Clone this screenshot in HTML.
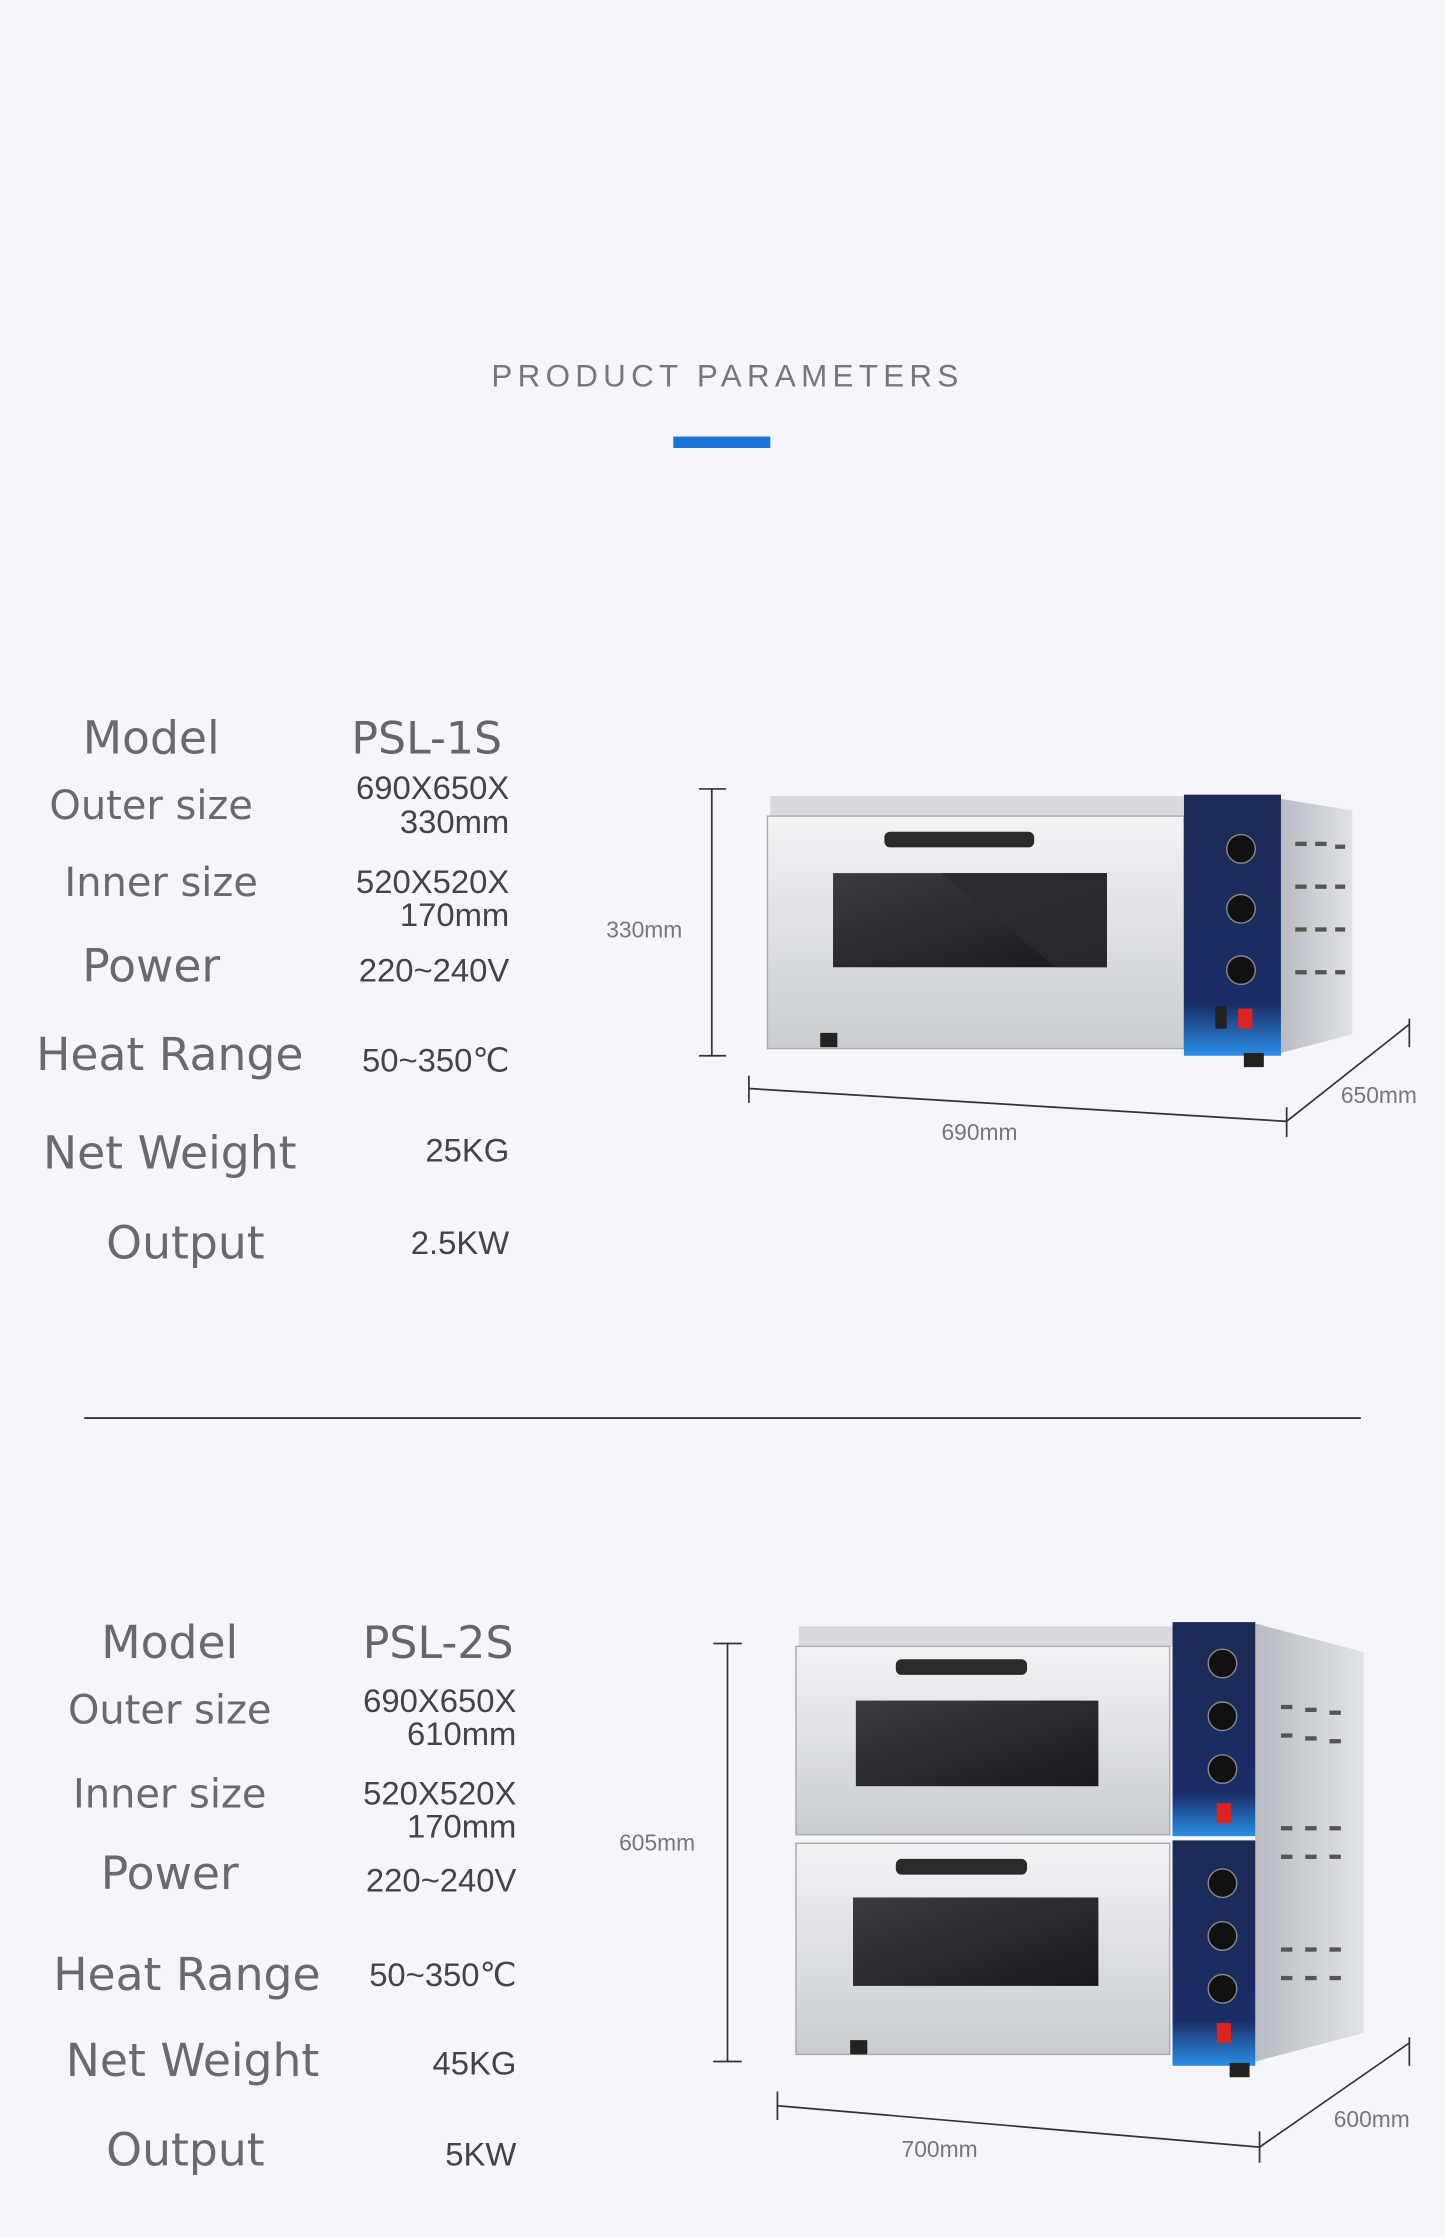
<!DOCTYPE html>
<html><head><meta charset="utf-8"><style>
html,body{margin:0;padding:0;background:#f4f6fc;}
svg{display:block}
.l{font-family:"DejaVu Sans","Liberation Sans",sans-serif;fill:#6a6a6a;}
.v{font-family:"Liberation Sans",sans-serif;fill:#444;}
.d{font-family:"Liberation Sans",sans-serif;fill:#777;font-size:16px}
</style></head><body>
<svg width="1445" height="2237" viewBox="0 0 1013 1568" preserveAspectRatio="none" xmlns="http://www.w3.org/2000/svg">
<defs>
<linearGradient id="door" x1="0" y1="0" x2="0" y2="1"><stop offset="0" stop-color="#f2f3f5"/><stop offset="1" stop-color="#c9ccd1"/></linearGradient>
<linearGradient id="side" x1="0" y1="0" x2="1" y2="0"><stop offset="0" stop-color="#b8bcc2"/><stop offset="1" stop-color="#e0e2e6"/></linearGradient>
<linearGradient id="panel" x1="0" y1="0" x2="0" y2="1"><stop offset="0" stop-color="#1c2a55"/><stop offset="0.8" stop-color="#1a2d66"/><stop offset="1" stop-color="#2a8ee8"/></linearGradient>
<linearGradient id="win" x1="0" y1="0" x2="1" y2="1"><stop offset="0" stop-color="#3a3c40"/><stop offset="1" stop-color="#18191c"/></linearGradient>
</defs>
<rect width="1013" height="1568" fill="#f4f6fc"/>
<text x="510" y="271" text-anchor="middle" style="font-family:'Liberation Sans',sans-serif;font-size:22px;letter-spacing:3.7px;fill:#777">PRODUCT PARAMETERS</text>
<rect x="472" y="306" width="68" height="8" fill="#1a73d6"/>
<line x1="59" y1="994" x2="954" y2="994" stroke="#333" stroke-width="1.3"/>

<g class="l" style="font-size:32px" text-anchor="middle">
<text x="106" y="528">Model</text>
<text x="106" y="574" style="font-size:28px">Outer size</text>
<text x="113" y="628" style="font-size:28px">Inner size</text>
<text x="106" y="688">Power</text>
<text x="119" y="750">Heat Range</text>
<text x="119" y="819">Net Weight</text>
<text x="130" y="882">Output</text>
</g>
<g class="v" style="font-size:23px" text-anchor="end">
<text x="352" y="528" class="l" style="font-size:31px;fill:#666">PSL-1S</text>
<text x="357" y="560">690X650X</text>
<text x="357" y="584">330mm</text>
<text x="357" y="626">520X520X</text>
<text x="357" y="649">170mm</text>
<text x="357" y="688">220~240V</text>
<text x="357" y="751">50~350℃</text>
<text x="357" y="814">25KG</text>
<text x="357" y="879">2.5KW</text>
</g>

<g class="l" style="font-size:32px" text-anchor="middle">
<text x="119" y="1162">Model</text>
<text x="119" y="1208" style="font-size:28px">Outer size</text>
<text x="119" y="1267" style="font-size:28px">Inner size</text>
<text x="119" y="1324">Power</text>
<text x="131" y="1395">Heat Range</text>
<text x="135" y="1455">Net Weight</text>
<text x="130" y="1518">Output</text>
</g>
<g class="v" style="font-size:23px" text-anchor="end">
<text x="360" y="1162" class="l" style="font-size:31px;fill:#666">PSL-2S</text>
<text x="362" y="1200">690X650X</text>
<text x="362" y="1223">610mm</text>
<text x="362" y="1265">520X520X</text>
<text x="362" y="1288">170mm</text>
<text x="362" y="1326">220~240V</text>
<text x="362" y="1392">50~350℃</text>
<text x="362" y="1454">45KG</text>
<text x="362" y="1518">5KW</text>
</g>

<g stroke="#333" stroke-width="1.2" fill="none">
<line x1="499" y1="553" x2="499" y2="740"/><line x1="490" y1="553" x2="509" y2="553"/><line x1="490" y1="740" x2="509" y2="740"/>
<line x1="525" y1="763" x2="902" y2="786"/><line x1="525" y1="754" x2="525" y2="773"/><line x1="902" y1="776" x2="902" y2="797"/>
<line x1="902" y1="786" x2="988" y2="718"/><line x1="988" y1="714" x2="988" y2="734"/>
</g>
<text x="425" y="657" class="d">330mm</text>
<text x="660" y="799" class="d">690mm</text>
<text x="940" y="773" class="d">650mm</text>

<polygon points="898,560 948,568 948,725 898,738" fill="url(#side)"/>
<g fill="#555"><rect x="908" y="590" width="8" height="3"/><rect x="922" y="590" width="8" height="3"/><rect x="936" y="592" width="7" height="3"/>
<rect x="908" y="620" width="8" height="3"/><rect x="922" y="620" width="8" height="3"/><rect x="936" y="620" width="7" height="3"/>
<rect x="908" y="650" width="8" height="3"/><rect x="922" y="650" width="8" height="3"/><rect x="936" y="650" width="7" height="3"/>
<rect x="908" y="680" width="8" height="3"/><rect x="922" y="680" width="8" height="3"/><rect x="936" y="680" width="7" height="3"/></g>
<rect x="540" y="558" width="292" height="14" fill="#d8dadd"/>
<rect x="538" y="572" width="292" height="163" fill="url(#door)" stroke="#aaa"/>
<rect x="584" y="612" width="192" height="66" fill="url(#win)"/>
<polygon points="660,612 776,612 776,678 740,678" fill="#2a2b2e" opacity="0.8"/>
<rect x="620" y="583" width="105" height="11" rx="4" fill="#2a2a2a"/>
<rect x="830" y="557" width="68" height="183" fill="url(#panel)"/>
<g fill="#111" stroke="#888"><circle cx="870" cy="595" r="10"/><circle cx="870" cy="637" r="10"/><circle cx="870" cy="680" r="10"/></g>
<rect x="868" y="707" width="10" height="14" fill="#d22"/><rect x="852" y="705" width="8" height="16" fill="#222"/>
<rect x="575" y="724" width="12" height="10" fill="#222"/><rect x="872" y="738" width="14" height="10" fill="#222"/>

<g stroke="#333" stroke-width="1.2" fill="none">
<line x1="510" y1="1152" x2="510" y2="1445"/><line x1="500" y1="1152" x2="520" y2="1152"/><line x1="500" y1="1445" x2="520" y2="1445"/>
<line x1="545" y1="1476" x2="883" y2="1505"/><line x1="545" y1="1466" x2="545" y2="1486"/><line x1="883" y1="1494" x2="883" y2="1516"/>
<line x1="883" y1="1505" x2="988" y2="1432"/><line x1="988" y1="1428" x2="988" y2="1448"/>
</g>
<text x="434" y="1297" class="d">605mm</text>
<text x="632" y="1512" class="d">700mm</text>
<text x="935" y="1491" class="d">600mm</text>

<polygon points="880,1138 956,1158 956,1425 880,1445" fill="url(#side)"/>
<g fill="#555">
<rect x="898" y="1195" width="8" height="3"/><rect x="915" y="1197" width="8" height="3"/><rect x="932" y="1199" width="8" height="3"/>
<rect x="898" y="1215" width="8" height="3"/><rect x="915" y="1217" width="8" height="3"/><rect x="932" y="1219" width="8" height="3"/>
<rect x="898" y="1280" width="8" height="3"/><rect x="915" y="1280" width="8" height="3"/><rect x="932" y="1280" width="8" height="3"/>
<rect x="898" y="1300" width="8" height="3"/><rect x="915" y="1300" width="8" height="3"/><rect x="932" y="1300" width="8" height="3"/>
<rect x="898" y="1365" width="8" height="3"/><rect x="915" y="1365" width="8" height="3"/><rect x="932" y="1365" width="8" height="3"/>
<rect x="898" y="1385" width="8" height="3"/><rect x="915" y="1385" width="8" height="3"/><rect x="932" y="1385" width="8" height="3"/></g>
<rect x="560" y="1140" width="262" height="14" fill="#d8dadd"/>
<rect x="558" y="1154" width="262" height="132" fill="url(#door)" stroke="#aaa"/>
<rect x="558" y="1292" width="262" height="148" fill="url(#door)" stroke="#aaa"/>
<rect x="600" y="1192" width="170" height="60" fill="url(#win)"/>
<rect x="598" y="1330" width="172" height="62" fill="url(#win)"/>
<rect x="628" y="1163" width="92" height="11" rx="4" fill="#2a2a2a"/>
<rect x="628" y="1303" width="92" height="11" rx="4" fill="#2a2a2a"/>
<rect x="822" y="1137" width="58" height="150" fill="url(#panel)"/>
<rect x="822" y="1290" width="58" height="158" fill="url(#panel)"/>
<g fill="#111" stroke="#888"><circle cx="857" cy="1166" r="10"/><circle cx="857" cy="1203" r="10"/><circle cx="857" cy="1240" r="10"/>
<circle cx="857" cy="1320" r="10"/><circle cx="857" cy="1357" r="10"/><circle cx="857" cy="1394" r="10"/></g>
<rect x="853" y="1264" width="10" height="14" fill="#d22"/><rect x="853" y="1418" width="10" height="14" fill="#d22"/>
<rect x="596" y="1430" width="12" height="10" fill="#222"/><rect x="862" y="1446" width="14" height="10" fill="#222"/>
</svg>
</body></html>
